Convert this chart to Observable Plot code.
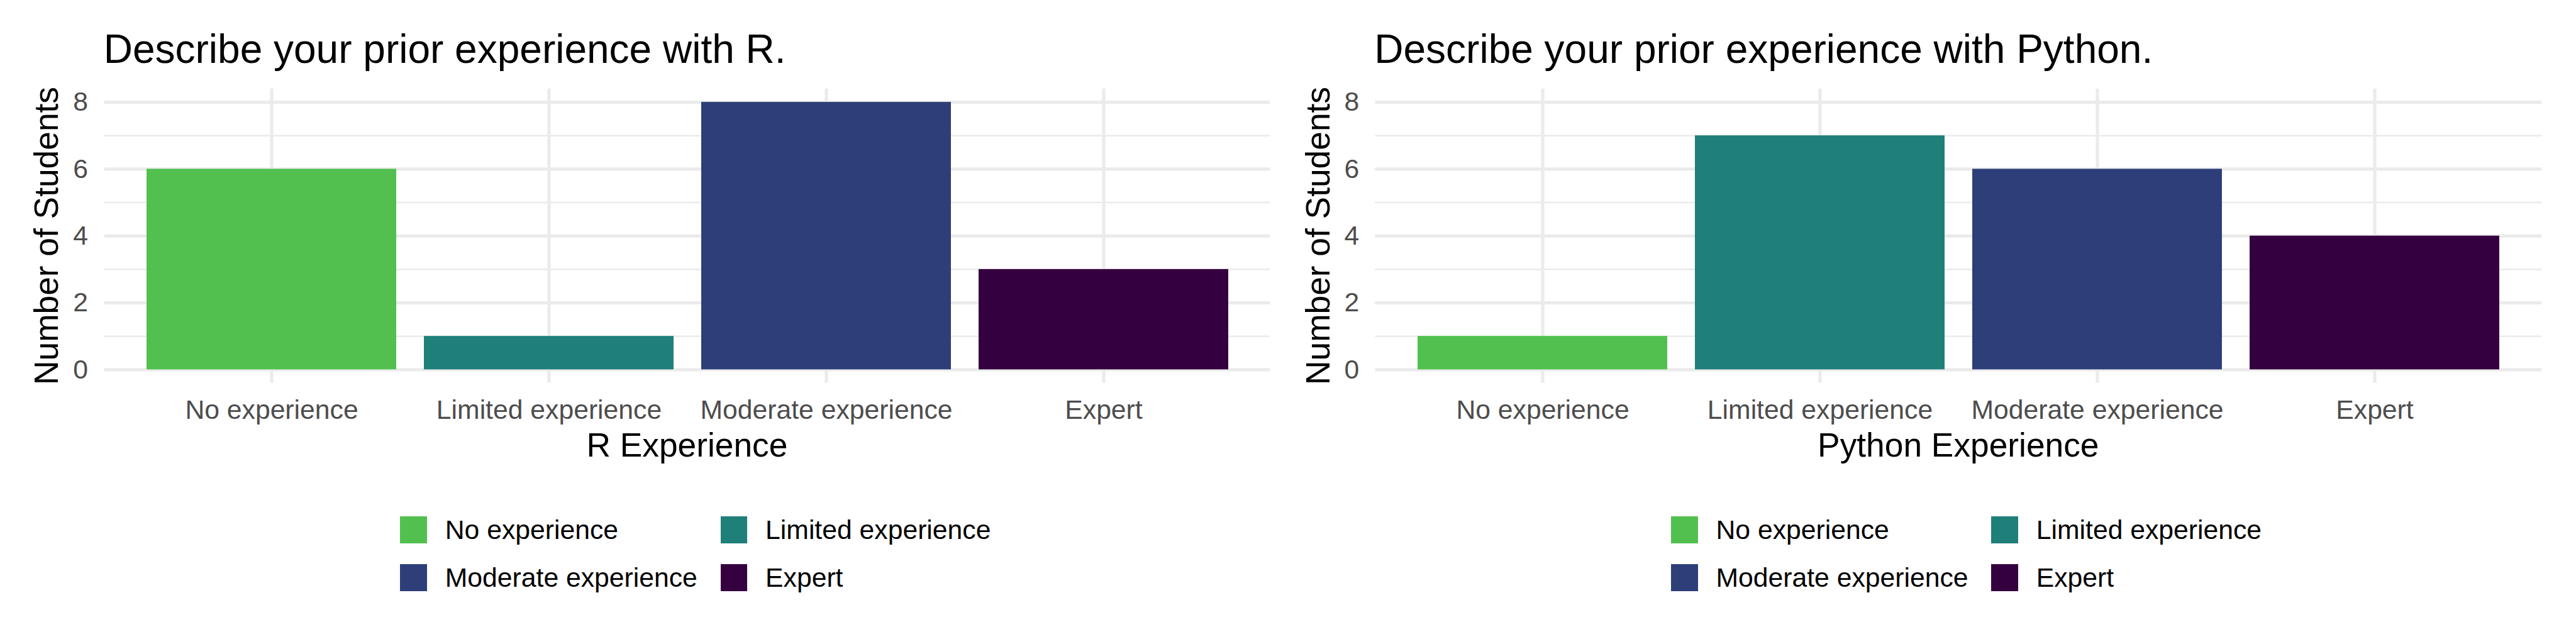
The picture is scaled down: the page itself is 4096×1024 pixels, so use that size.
<!DOCTYPE html>
<html><head><meta charset="utf-8">
<script src="https://cdn.jsdelivr.net/npm/d3@7"></script>
<script src="https://cdn.jsdelivr.net/npm/@observablehq/plot@0.6"></script>
<style>
html,body{margin:0;padding:0;background:#fff;}
#root{position:relative;width:4096px;height:1024px;overflow:hidden;font-family:"Liberation Sans",Arial,sans-serif;}
.abs{position:absolute;white-space:nowrap;}
</style></head><body><div id="root"></div>
<script>
// ---- data ----
const categories = ["No experience", "Limited experience", "Moderate experience", "Expert"];
const colors = ["#51C04F", "#1F7F79", "#2E3E79", "#35003F"];
const rCounts = [6, 1, 8, 3];
const pythonCounts = [1, 7, 6, 4];
const yTicks = [0, 2, 4, 6, 8];
const yMinorTicks = [1, 3, 5, 7];
const titles = ["Describe your prior experience with R.", "Describe your prior experience with Python."];
const xTitles = ["R Experience", "Python Experience"];
const yTitle = "Number of Students";

const root = document.getElementById("root");
const FONT = '"Liberation Sans", Arial, sans-serif';

function addDiv(text, css) {
  const d = document.createElement("div");
  d.className = "abs";
  d.textContent = text;
  Object.assign(d.style, css);
  root.appendChild(d);
  return d;
}

function panel(counts, idx) {
  const ox = idx * 2048;
  const ml = idx === 0 ? 165.7 : 138.3;
  const mr = idx === 0 ? 28.8 : 54.7;
  const mt = 140.8, H = 760, mb = H - 608.6;
  const data = categories.map((c, i) => ({cat: c, n: counts[i]}));
  const svg = Plot.plot({
    width: 2048, height: H,
    marginTop: mt, marginBottom: mb, marginLeft: ml, marginRight: mr,
    style: {fontFamily: FONT, background: "transparent", overflow: "visible"},
    x: {type: "band", domain: categories, paddingInner: 0.1, paddingOuter: 0.15, label: null},
    y: {domain: [-0.4, 8.4], label: null},
    color: {domain: categories, range: colors},
    marks: [
      Plot.ruleX(categories, {x: d => d, stroke: "#EBEBEB", strokeWidth: 5.2}),
      Plot.ruleY(yMinorTicks, {stroke: "#EBEBEB", strokeWidth: 2.6}),
      Plot.ruleY(yTicks, {stroke: "#EBEBEB", strokeWidth: 5.2}),
      Plot.barY(data, {x: "cat", y: "n", fill: "cat"}),
      Plot.axisY(yTicks, {tickSize: 0, tickPadding: idx === 0 ? 26.3 : 25.6, fontSize: 42.7, fill: "#4D4D4D", tickFormat: d => String(d), label: null}),
      Plot.axisX({tickSize: 0, tickPadding: 26.1, fontSize: 42.7, fill: "#4D4D4D", label: null})
    ]
  });
  svg.style.position = "absolute";
  svg.style.left = ox + "px";
  svg.style.top = "0px";
  root.appendChild(svg);

  const left = ox + ml, right = ox + 2048 - mr;
  // title (baseline at ~100)
  addDiv(titles[idx], {left: (left - 1) + "px", top: "46.1px", fontSize: "64px", lineHeight: "64px", color: "#000"});
  // x axis title (baseline at 726)
  addDiv(xTitles[idx], {left: ((left + right) / 2) + "px", top: "680.9px", fontSize: "53.3px", lineHeight: "53.3px", color: "#000", transform: "translateX(-50%)"});
  // y axis title rotated
  const cx = ox + (idx === 0 ? 73.6 : 48.0);
  const cy = (mt + 608.6) / 2;
  addDiv(yTitle, {left: cx + "px", top: cy + "px", fontSize: "53.3px", lineHeight: "53.3px", color: "#000", transform: "translate(-50%,-50%) rotate(-90deg)"});

  // legend
  const lx = ox + (idx === 0 ? 636.3 : 2657 - 2048);
  const rows = [821.2, 897.3];
  const colStep = 509.3;
  const key = 42.7;
  categories.forEach((c, i) => {
    const col = i % 2, row = Math.floor(i / 2);
    const x = lx + col * colStep, y = rows[row];
    const sw = document.createElement("div");
    sw.className = "abs";
    Object.assign(sw.style, {left: x + "px", top: y + "px", width: key + "px", height: key + "px", background: colors[i]});
    root.appendChild(sw);
    addDiv(c, {left: (x + 71.5) + "px", top: y + "px", height: key + "px", lineHeight: key + "px", fontSize: "42.7px", color: "#000"});
  });
}

panel(rCounts, 0);
panel(pythonCounts, 1);
</script>
</body></html>
